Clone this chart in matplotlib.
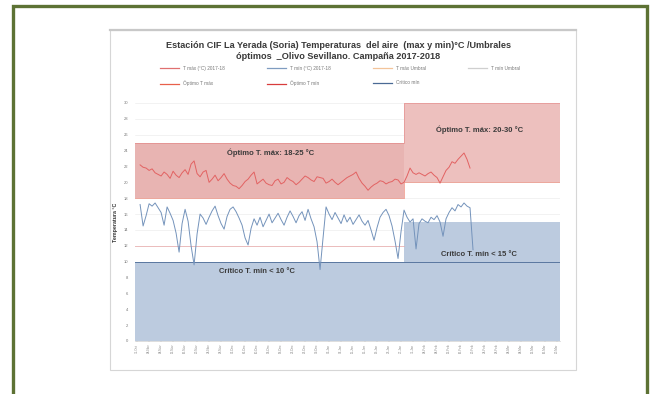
import numpy as np
import pandas as pd
import matplotlib
matplotlib.use("Agg")
import matplotlib.pyplot as plt
import matplotlib.dates as mdates
from matplotlib.lines import Line2D
from matplotlib.patches import Rectangle

plt.rcParams['font.family'] = ['Liberation Sans', 'DejaVu Sans']

W, H = 658, 394


def fx(px):
    return px / W


def fy(py):
    return 1 - py / H


title = ("Estación CIF La Yerada (Soria) Temperaturas  del aire  (max y min)°C /Umbrales\n"
         "óptimos  _Olivo Sevillano. Campaña 2017-2018")

legend_labels = ["T máx (°C) 2017-18", "T mín (°C) 2017-18", "T máx Umbral", "T mín Umbral",
                 "Óptimo T máx", "Óptimo T mín", "Crítico mín"]
legend_colors = ["#e07070", "#7f9cc0", "#f3c49a", "#cfcfcf", "#e8604a", "#d83c3c", "#4a6a95"]

# daily air temperature (°C)
tmax = [22.2, 21.9, 21.8, 21.5, 21.7, 21.2, 21.0, 20.8, 21.3, 21.0,
        20.5, 21.4, 20.9, 20.6, 21.2, 21.6, 21.0, 22.3, 22.7, 21.1,
        20.7, 21.3, 21.5, 20.0, 20.4, 20.9, 20.2, 20.6, 21.1, 20.4,
        19.9, 19.6, 19.5, 19.2, 19.6, 20.1, 20.4, 20.9, 21.3, 19.8,
        20.1, 20.4, 19.9, 19.7, 19.6, 20.2, 20.4, 19.8, 20.0, 20.6,
        20.3, 20.1, 19.7, 20.0, 20.4, 20.8, 20.6, 20.3, 20.1, 20.7,
        20.6, 20.5, 19.9, 20.1, 20.4, 20.0, 19.7, 20.0, 20.3, 20.6,
        20.8, 21.0, 21.3, 20.5, 19.9, 19.5, 19.0, 19.4, 19.7, 19.9,
        20.2, 20.1, 19.8, 20.0, 20.1, 20.4, 20.3, 19.8, 20.0, 20.8,
        21.8, 21.2, 21.0, 21.2, 21.0, 20.8, 21.1, 21.3, 20.9, 20.6,
        19.9, 20.7, 21.5, 21.9, 22.6, 22.4, 22.9, 23.3, 23.7, 22.9,
        21.8]

tmin = [17.2, 14.5, 15.8, 17.3, 17.0, 17.4, 16.8, 16.2, 14.6, 16.9,
        16.1, 15.2, 13.6, 11.2, 14.8, 16.6, 15.1, 12.0, 9.6, 13.5,
        16.0, 15.5, 14.7, 15.6, 16.4, 17.0, 15.8, 14.8, 14.1, 15.7,
        16.6, 16.9, 16.3, 15.5, 14.6, 13.0, 12.1, 14.2, 15.4, 14.6,
        15.6, 14.4, 15.2, 16.0, 14.9, 15.5, 16.1, 15.3, 14.6, 15.6,
        16.4, 15.7, 14.9, 15.8, 16.3, 15.2, 16.6, 15.4, 14.4, 12.5,
        9.0, 13.0, 16.9, 16.0, 15.3, 16.2, 15.5, 14.8, 15.9, 15.0,
        15.6, 14.7, 15.3, 15.9, 15.1, 14.6, 15.2, 14.0, 12.7, 14.3,
        15.6, 16.2, 16.6, 15.8, 14.5, 12.6, 10.4, 13.8, 16.5, 15.6,
        15.0, 15.4, 11.6, 14.8, 15.4, 15.1, 14.9, 15.6, 15.3, 15.8,
        15.0, 13.2, 15.4, 16.2, 16.8, 16.4, 17.2, 16.9, 17.4, 17.0,
        16.8, 11.5]

# thresholds per period (before / after the change date)
start_date = pd.Timestamp("2017-11-01")
period_edges = [start_date - pd.Timedelta(days=2), start_date + pd.Timedelta(days=88),
                start_date + pd.Timedelta(days=140)]
opt_tmax_low = [18, 20]
opt_tmax_high = [25, 30]
crit_tmin = [10, 15]
tmin_umbral = 12

dates_max = pd.date_range(start_date, periods=len(tmax), freq="D")
dates_min = pd.date_range(start_date, periods=len(tmin), freq="D")

fig = plt.figure(figsize=(W / 100, H / 100), dpi=100)
fig.patch.set_facecolor("white")

# outer frame (olive), open at the bottom
fig.add_artist(Line2D([fx(13), fx(13), fx(647), fx(647)], [-0.05, fy(6), fy(6), -0.05],
                      transform=fig.transFigure, color="#5d7234", lw=2.4,
                      solid_joinstyle="miter"))

# chart card
fig.add_artist(Rectangle((fx(110), fy(370)), fx(466), 340 / H, transform=fig.transFigure,
                         facecolor="white", edgecolor="#d6d6d6", lw=0.8, zorder=0))
fig.add_artist(Line2D([fx(110), fx(576)], [fy(30), fy(30)], transform=fig.transFigure,
                      color="#c8c8c8", lw=1.6))

fig.text(fx(338), fy(51), title, ha="center", va="center", fontsize=6.6,
         fontweight="bold", color="#3a3a3a", linespacing=1.3)

ax = fig.add_axes([fx(135), fy(341), fx(425), 238 / H])
ax.set_facecolor("white")

edge_x = period_edges


def step(vals):
    return [vals[0], vals[1], vals[1]]


# critical minimum area
ax.fill_between(edge_x, 0, step(crit_tmin), step="post", color="#bccbdf", lw=0, zorder=1)
# optimum maximum band
ax.fill_between(edge_x[:2], opt_tmax_low[0], opt_tmax_high[0], color="#e8b4b2", lw=0, zorder=1)
ax.fill_between(edge_x[1:], opt_tmax_low[1], opt_tmax_high[1], color="#edc0be", lw=0, zorder=1)

ax.step(edge_x, step(opt_tmax_low), where="post", color=legend_colors[4], lw=0.6, alpha=0.6, zorder=2)
ax.step(edge_x, step(opt_tmax_high), where="post", color=legend_colors[5], lw=0.5, alpha=0.35, zorder=2)
ax.plot([edge_x[0], edge_x[-1]], [crit_tmin[0], crit_tmin[0]], color=legend_colors[6], lw=0.6, zorder=2)
ax.plot([edge_x[0], edge_x[1]], [tmin_umbral, tmin_umbral], color="#e8a7a7", lw=0.5, zorder=2)

ax.plot(dates_max, tmax, color="#e26262", lw=0.7, zorder=3)
ax.plot(dates_min, tmin, color="#7493bb", lw=0.7, zorder=3)

ax.set_ylim(0, 30)
ax.set_xlim(start_date - pd.Timedelta(days=1.7), start_date + pd.Timedelta(days=140))
ax.set_yticks(np.arange(0, 31, 2))
ax.tick_params(axis="y", labelsize=3, colors="#777777", length=0, pad=5)
ax.grid(axis="y", color="#e8e8e8", lw=0.4, zorder=0)
ax.set_axisbelow(True)
for s in ax.spines.values():
    s.set_visible(False)
ax.spines["bottom"].set_visible(True)
ax.spines["bottom"].set_color("#d0d0d0")
ax.spines["bottom"].set_linewidth(0.5)

ax.xaxis.set_major_locator(mdates.DayLocator(interval=4))
ax.xaxis.set_major_formatter(mdates.DateFormatter("%d-%b"))
ax.tick_params(axis="x", labelsize=2.2, colors="#888888", length=1, width=0.3,
               rotation=90, pad=1)

# band annotations
ann = dict(transform=ax.transAxes, ha="center", va="center", fontsize=5.5,
           fontweight="bold", color="#3a3a3a", zorder=4)
ax.text(0.319, 0.79, "Óptimo T. máx: 18-25 °C", **ann)
ax.text(0.81, 0.887, "Óptimo T. máx: 20-30 °C", **ann)
ax.text(0.288, 0.29, "Crítico T. mín < 10 °C", **ann)
ax.text(0.81, 0.365, "Crítico T. mín < 15 °C", **ann)

fig.text(fx(115), fy(222), "Temperatura °C", rotation=90, ha="center", va="center",
         fontsize=3.8, fontweight="bold", color="#333333")

# legend, filled row by row
handles = [Line2D([], [], color=c, lw=0.9) for c in legend_colors]
order = [0, 4, 1, 5, 2, 6, 3]
fig.legend([handles[i] for i in order], [legend_labels[i] for i in order],
           loc="center", bbox_to_anchor=(fx(340), fy(76)), ncol=4, frameon=False,
           fontsize=3.4, handlelength=4, columnspacing=9, labelspacing=2.0,
           labelcolor="#777777")

fig.savefig("out.png", dpi=100, facecolor="white")
